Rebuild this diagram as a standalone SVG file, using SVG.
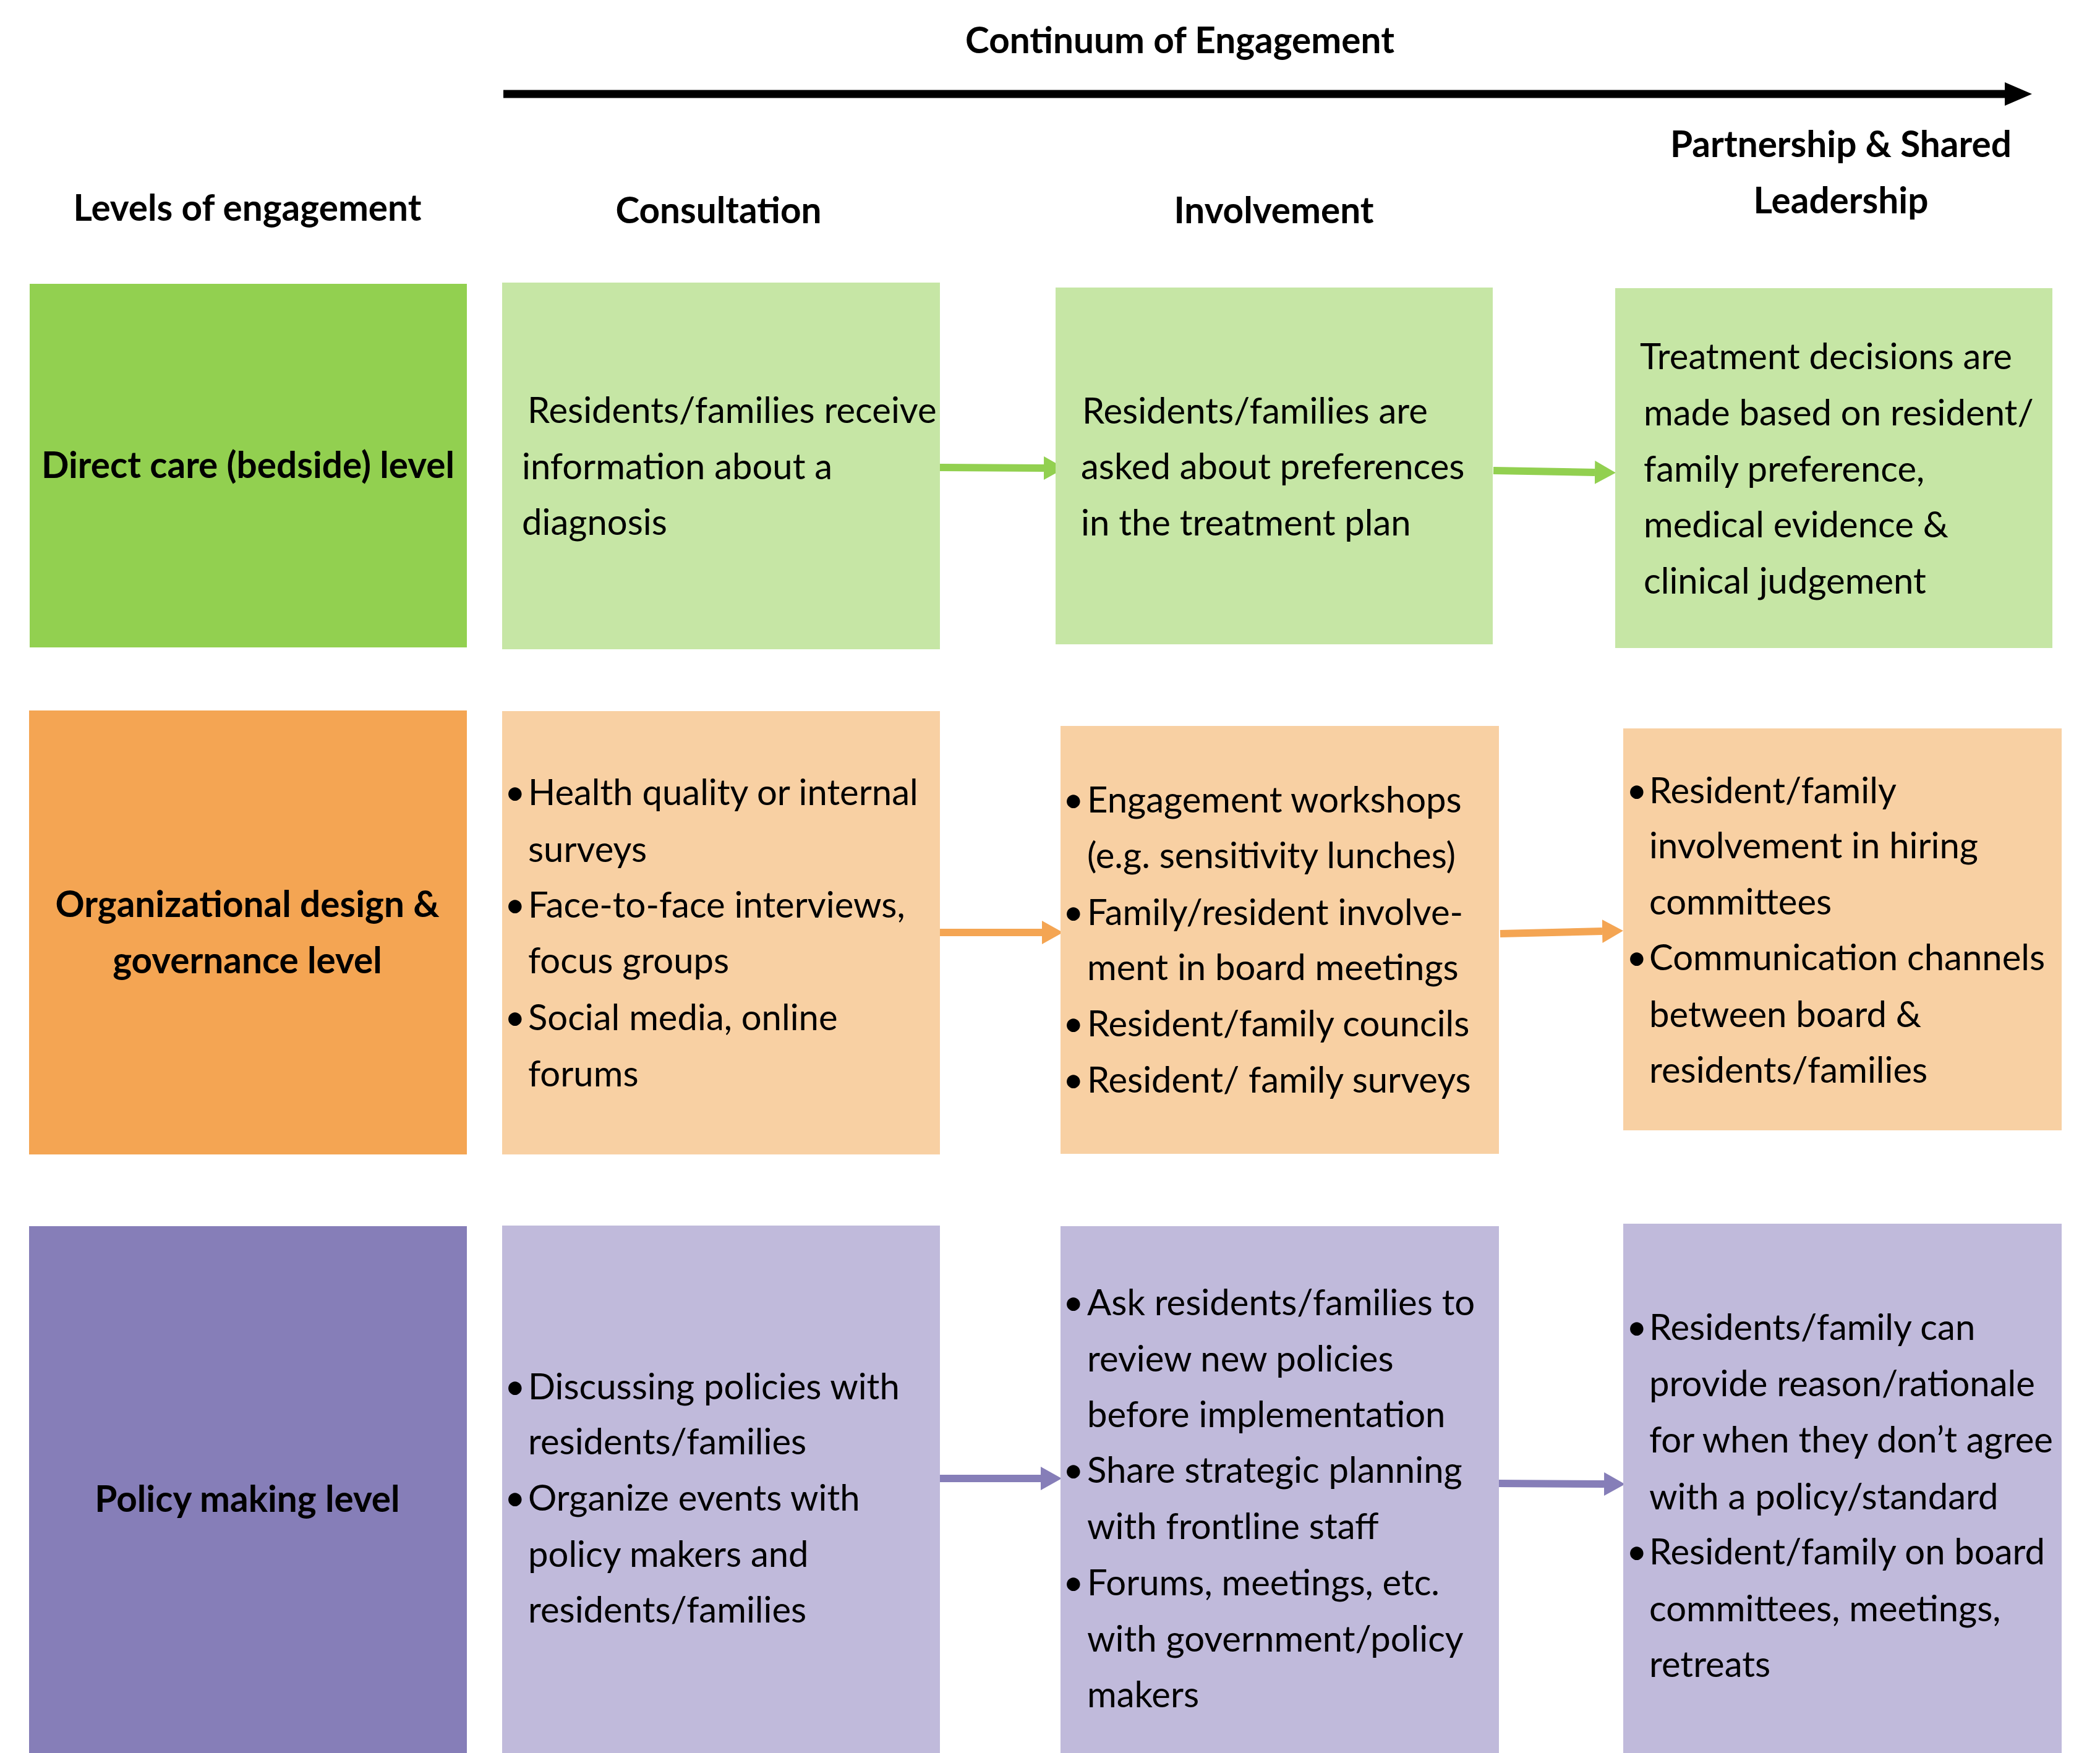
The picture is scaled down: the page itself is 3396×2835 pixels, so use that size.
<svg xmlns="http://www.w3.org/2000/svg" width="3396" height="2835" viewBox="0 0 3396 2835">
<defs>
<style>
text{font-family:Lato,"Liberation Sans",sans-serif;font-size:58px;fill:#000;}
.b{font-weight:700;font-size:58.5px;}
.c{text-anchor:middle;}
.lg{fill:#92D050;} .lg2{fill:#C6E6A5;}
.or{fill:#F4A553;} .or2{fill:#F8D0A3;}
.pu{fill:#867EB8;} .pu2{fill:#C0BADB;}
.ag{stroke:#92D050;stroke-width:12;fill:none;}
.ao{stroke:#F4A553;stroke-width:12;fill:none;}
.ap{stroke:#867EB8;stroke-width:12;fill:none;}
</style>
<marker id="hk" markerUnits="userSpaceOnUse" markerWidth="45" markerHeight="40" refX="0" refY="20" orient="auto"><path d="M0,1 L44,20 L0,39 z" fill="#000"/></marker>
<marker id="hg" markerUnits="userSpaceOnUse" markerWidth="34" markerHeight="38" refX="0" refY="19" orient="auto"><path d="M0,0 L34,19 L0,38 z" fill="#92D050"/></marker>
<marker id="ho" markerUnits="userSpaceOnUse" markerWidth="34" markerHeight="38" refX="0" refY="19" orient="auto"><path d="M0,0 L34,19 L0,38 z" fill="#F4A553"/></marker>
<marker id="hp" markerUnits="userSpaceOnUse" markerWidth="34" markerHeight="38" refX="0" refY="19" orient="auto"><path d="M0,0 L34,19 L0,38 z" fill="#867EB8"/></marker>
</defs>
<rect width="3396" height="2835" fill="#fff"/>

<g id="headers">
<text class="b c" x="1908" y="86">Continuum of Engagement</text>
<text class="b c" x="400" y="357">Levels of engagement</text>
<text class="b c" x="1162" y="361">Consultation</text>
<text class="b c" x="2060" y="361">Involvement</text>
<text class="b c" x="2977" y="254">Partnership &amp; Shared</text>
<text class="b c" x="2977" y="345">Leadership</text>
</g>

<g id="connectors">
<line x1="814" y1="152" x2="3242" y2="152" stroke="#000" stroke-width="13" marker-end="url(#hk)"/>
<line class="ag" x1="1520" y1="756" x2="1688" y2="757" marker-end="url(#hg)"/>
<line class="ag" x1="2415" y1="761" x2="2579" y2="764" marker-end="url(#hg)"/>
<line class="ao" x1="1520" y1="1508" x2="1685" y2="1508" marker-end="url(#ho)"/>
<line class="ao" x1="2426" y1="1510" x2="2591" y2="1506" marker-end="url(#ho)"/>
<line class="ap" x1="1520" y1="2391" x2="1683" y2="2391" marker-end="url(#hp)"/>
<line class="ap" x1="2422" y1="2399" x2="2594" y2="2400" marker-end="url(#hp)"/>
</g>

<g id="level-direct">
<rect class="lg" x="48" y="459" width="707" height="588"/>
<text class="b c" x="401" y="773">Direct care (bedside) level</text>
</g>
<g id="direct-consultation">
<rect class="lg2" x="812" y="457" width="708" height="593"/>
<text x="853" y="684">Residents/families receive</text>
<text x="844" y="775">information about a</text>
<text x="844" y="865">diagnosis</text>
</g>
<g id="direct-involvement">
<rect class="lg2" x="1707" y="465" width="707" height="577"/>
<text x="1750" y="685">Residents/families are</text>
<text x="1748" y="775">asked about preferences</text>
<text x="1748" y="866">in the treatment plan</text>
</g>
<g id="direct-partnership">
<rect class="lg2" x="2612" y="466" width="707" height="582"/>
<text x="2652" y="597">Treatment decisions are</text>
<text x="2658" y="688">made based on resident/</text>
<text x="2658" y="779">family preference,</text>
<text x="2658" y="869">medical evidence &amp;</text>
<text x="2658" y="960">clinical judgement</text>
</g>

<g id="level-organizational">
<rect class="or" x="47" y="1149" width="708" height="718"/>
<text class="b c" x="400" y="1483">Organizational design &amp;</text>
<text class="b c" x="400" y="1574">governance level</text>
</g>
<g id="org-consultation">
<rect class="or2" x="812" y="1150" width="708" height="717"/>
<text x="816" y="1302">•</text><text x="854" y="1302">Health quality or internal</text>
<text x="854" y="1394">surveys</text>
<text x="816" y="1484">•</text><text x="854" y="1484">Face-to-face interviews,</text>
<text x="854" y="1574">focus groups</text>
<text x="816" y="1666">•</text><text x="854" y="1666">Social media, online</text>
<text x="854" y="1757">forums</text>
</g>
<g id="org-involvement">
<rect class="or2" x="1715" y="1174" width="709" height="692"/>
<text x="1719" y="1314">•</text><text x="1758" y="1314">Engagement workshops</text>
<text x="1758" y="1404">(e.g. sensitivity lunches)</text>
<text x="1719" y="1496">•</text><text x="1758" y="1496">Family/resident involve-</text>
<text x="1758" y="1585">ment in board meetings</text>
<text x="1719" y="1676">•</text><text x="1758" y="1676">Resident/family councils</text>
<text x="1719" y="1767">•</text><text x="1758" y="1767">Resident/ family surveys</text>
</g>
<g id="org-partnership">
<rect class="or2" x="2625" y="1178" width="709" height="650"/>
<text x="2630" y="1299">•</text><text x="2667" y="1299">Resident/family</text>
<text x="2667" y="1388">involvement in hiring</text>
<text x="2667" y="1479">committees</text>
<text x="2630" y="1569">•</text><text x="2667" y="1569">Communication channels</text>
<text x="2667" y="1661">between board &amp;</text>
<text x="2667" y="1751">residents/families</text>
</g>

<g id="level-policy">
<rect class="pu" x="47" y="1983" width="708" height="852"/>
<text class="b c" x="400" y="2445">Policy making level</text>
</g>
<g id="policy-consultation">
<rect class="pu2" x="812" y="1982" width="708" height="853"/>
<text x="816" y="2263">•</text><text x="854" y="2263">Discussing policies with</text>
<text x="854" y="2352">residents/families</text>
<text x="816" y="2443">•</text><text x="854" y="2443">Organize events with</text>
<text x="854" y="2534">policy makers and</text>
<text x="854" y="2624">residents/families</text>
</g>
<g id="policy-involvement">
<rect class="pu2" x="1715" y="1983" width="709" height="852"/>
<text x="1719" y="2127">•</text><text x="1758" y="2127">Ask residents/families to</text>
<text x="1758" y="2218">review new policies</text>
<text x="1758" y="2308">before implementation</text>
<text x="1719" y="2398">•</text><text x="1758" y="2398">Share strategic planning</text>
<text x="1758" y="2489">with frontline staff</text>
<text x="1719" y="2580">•</text><text x="1758" y="2580">Forums, meetings, etc.</text>
<text x="1758" y="2671">with government/policy</text>
<text x="1758" y="2761">makers</text>
</g>
<g id="policy-partnership">
<rect class="pu2" x="2625" y="1979" width="709" height="856"/>
<text x="2630" y="2167">•</text><text x="2667" y="2167">Residents/family can</text>
<text x="2667" y="2258">provide reason/rationale</text>
<text x="2667" y="2349">for when they don’t agree</text>
<text x="2667" y="2441">with a policy/standard</text>
<text x="2630" y="2530">•</text><text x="2667" y="2530">Resident/family on board</text>
<text x="2667" y="2622">committees, meetings,</text>
<text x="2667" y="2712">retreats</text>
</g>
</svg>
